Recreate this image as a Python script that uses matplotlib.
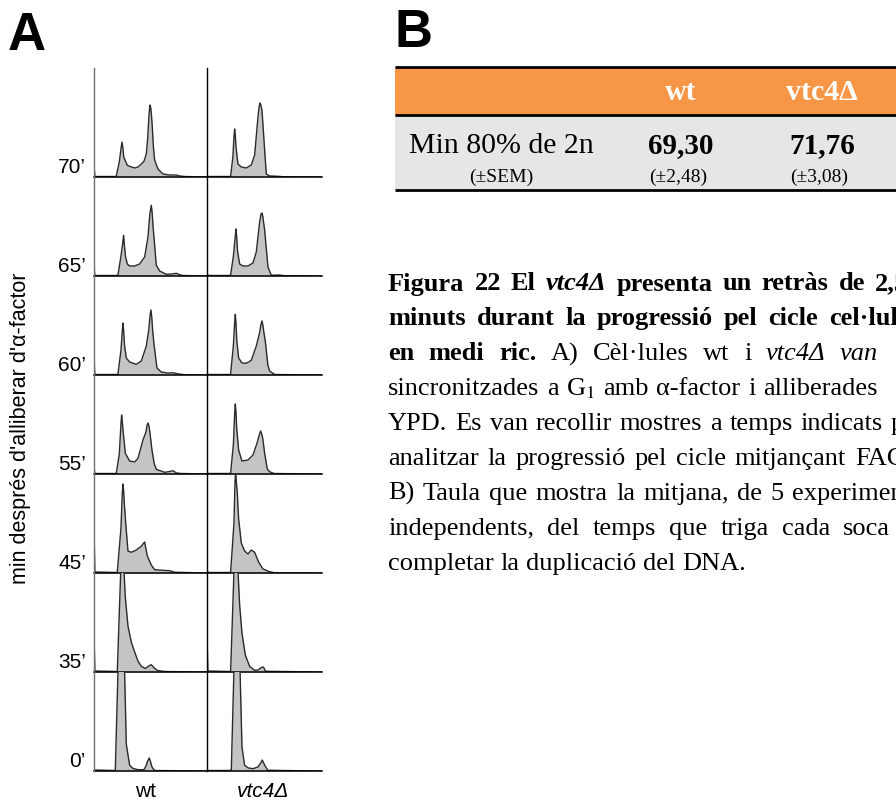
import matplotlib
matplotlib.use('Agg')
import matplotlib.pyplot as plt
from matplotlib.patches import Rectangle
from matplotlib.lines import Line2D

plt.rcParams['mathtext.fontset'] = 'stix'
SANS = 'Liberation Sans'
SERIF = 'Liberation Serif'

# ---- A: FACS histograms (DNA content channel vs. cell count), rows top -> bottom
times = ['70’', '65’', '60’', '55’', '45’', '35’', '0’']
strains = ['wt', 'vtc4Δ']

wt_ch = [
    [0, 5, 190, 198, 225, 240, 249, 256, 265, 297, 318, 363, 393, 423, 447, 468, 480, 492, 501, 508, 515, 522, 532, 543, 573, 618, 678, 738, 770, 813, 1017],
    [0, 5, 205, 213, 240, 256, 264, 270, 280, 297, 318, 363, 408, 453, 483, 500, 513, 520, 530, 537, 558, 588, 648, 700, 738, 770, 798, 1017],
    [0, 5, 205, 213, 240, 252, 258, 264, 272, 288, 318, 378, 423, 468, 490, 502, 510, 517, 525, 537, 564, 603, 660, 708, 760, 813, 1017],
    [0, 5, 190, 198, 225, 240, 246, 252, 262, 279, 318, 363, 393, 438, 465, 475, 483, 492, 500, 519, 540, 558, 633, 680, 708, 740, 783, 1017],
    [0, 5, 200, 207, 240, 252, 258, 264, 270, 282, 303, 333, 378, 423, 453, 477, 513, 543, 618, 678, 723, 1017],
    [0, 5, 200, 207, 250, 279, 303, 333, 363, 393, 423, 459, 490, 513, 540, 570, 633, 1017],
    [0, 180, 189, 245, 288, 318, 350, 393, 447, 468, 480, 495, 507, 519, 543, 1017],
]
wt_n = [
    [8, 0.5, 0.5, 1, 15, 28, 35, 30, 20, 11.7, 10.7, 9, 10, 13, 15.7, 23, 38, 62, 72, 69, 61, 50, 30, 17, 8, 3, 2, 2, 1, 0.5, 0],
    [6, 0.5, 0.5, 1, 20, 33, 40.7, 32, 20, 12, 10, 10, 12, 19, 39, 62, 70.7, 64, 48, 39, 10.7, 5, 1.7, 2, 2.7, 1.2, 0.5, 0],
    [10, 0.5, 0.5, 1, 25, 44, 52, 44, 30, 17, 13, 10.7, 14, 29, 45, 60, 65, 58, 45, 31, 7, 3, 2, 2.2, 1, 0.3, 0],
    [4, 0.5, 0.5, 1, 20, 50, 59, 52, 40, 20.7, 13, 12, 15.7, 34, 42, 49, 51, 48, 42, 24, 10, 4.7, 1.7, 2.5, 3.3, 1, 0.5, 0],
    [30, 1, 0.5, 1, 45, 80, 89, 82, 70, 51, 22, 20.7, 23, 26.7, 31, 17, 8, 3.3, 2.7, 2.3, 0.7, 0],
    [25, 1, 0.5, 1, 140, 75, 46, 30, 20, 11, 5.7, 3.5, 6, 7.3, 4, 1.5, 0.5, 0],
    [1, 0.5, 1, 230, 27, 5.7, 2.5, 1.3, 1.3, 5.7, 10, 13, 9, 4, 0.5, 0],
]

vtc_ch = [
    [0, 200, 210, 230, 240, 246, 252, 258, 276, 306, 351, 396, 426, 456, 466, 474, 482, 492, 516, 531, 561, 620, 680, 1032],
    [0, 5, 200, 210, 235, 252, 258, 264, 272, 291, 321, 366, 411, 441, 471, 484, 492, 499, 505, 516, 546, 576, 640, 700, 1032],
    [0, 5, 200, 210, 235, 246, 252, 258, 265, 282, 312, 351, 396, 441, 470, 482, 492, 500, 510, 522, 545, 561, 606, 1032],
    [0, 5, 200, 210, 235, 246, 252, 258, 265, 282, 312, 366, 411, 447, 470, 480, 490, 500, 516, 540, 561, 600, 1032],
    [0, 5, 200, 210, 240, 249, 255, 261, 270, 282, 306, 336, 366, 396, 426, 462, 501, 561, 600, 1032],
    [0, 5, 200, 210, 255, 291, 312, 342, 381, 426, 456, 480, 495, 507, 520, 531, 1032],
    [0, 200, 216, 268, 312, 336, 370, 411, 456, 480, 495, 507, 522, 546, 1032],
]
vtc_n = [
    [0.5, 0.5, 1, 20, 40, 48, 42, 30, 13, 10, 9, 12, 22, 60, 70, 74, 72, 67, 27, 3, 1, 0.8, 0.3, 0],
    [3, 0.5, 0.5, 1, 20, 40, 47, 40, 25, 12, 10, 10, 13, 24, 54, 62, 63, 60, 55, 46, 9, 0.7, 1, 0.3, 0],
    [2, 0.5, 0.5, 1, 30, 52, 60.7, 52, 35, 17, 12, 11.7, 14.7, 29, 42, 50, 54, 50, 42, 34, 10, 4, 0.5, 0],
    [2, 0.5, 0.5, 1, 30, 60, 70, 62, 45, 24, 13, 14, 19, 30.7, 40, 43, 40, 35, 20.7, 5, 2.3, 0.5, 0],
    [3, 0.5, 0.5, 1, 50, 90, 102, 92, 80, 54, 30, 22, 19, 23, 20.7, 11, 4, 1.3, 0.3, 0],
    [26, 1, 0.5, 1, 150, 67, 39, 17, 5.7, 1.7, 2, 4, 5, 4.7, 1.5, 0.7, 0],
    [0.5, 0.5, 1, 220, 24, 5.7, 3, 2.3, 4, 8, 11, 8, 4.7, 0.7, 0],
]

# ---- B: table
table_cols = ['wt', 'vtc4Δ']
table_row = 'Min 80% de 2n'
min_2n = [69.30, 71.76]
min_2n_sem = [2.48, 3.08]


def fmt(v):
    return f'{v:.2f}'.replace('.', ',')


W, H = 896, 802
fig = plt.figure(figsize=(W / 100, H / 100), dpi=100)
bg = fig.add_axes([0, 0, 1, 1])
bg.set_xlim(0, W)
bg.set_ylim(H, 0)
bg.axis('off')


def px_axes(x0, x1, ybase, h=99):
    return fig.add_axes([x0 / W, 1 - ybase / H, (x1 - x0) / W, h / H])


# panel A grid
x_wt, x_mid, x_end = 94.3, 207.3, 322
row_top, row0, row_h = 68, 177, 99
for i, t in enumerate(times):
    yb = row0 + row_h * i
    for x0, x1, ch, n in [(x_wt, x_mid, wt_ch[i], wt_n[i]),
                          (x_mid, x_end, vtc_ch[i], vtc_n[i])]:
        ax = px_axes(x0, x1, yb)
        ax.fill_between(ch, n, color='#c4c4c4', lw=0)
        ax.plot(ch, n, color='#2a2a2a', lw=1.0, solid_joinstyle='round')
        ax.set_xlim(0, (x1 - x0) * 9)
        ax.set_ylim(0, 99)
        ax.patch.set_visible(False)
        for s in ['top', 'right', 'left']:
            ax.spines[s].set_visible(False)
        ax.spines['bottom'].set_linewidth(1.1)
        ax.set_xticks([])
        ax.set_yticks([])
    bg.text(86, yb - 4, t, ha='right', va='baseline', fontsize=15, family=SANS)

last_base = row0 + row_h * (len(times) - 1)
fig.add_artist(Line2D([x_wt, x_wt], [row_top, last_base], transform=bg.transData,
                      color='#6e6e6e', lw=1.0))
fig.add_artist(Line2D([x_mid, x_mid], [row_top, last_base], transform=bg.transData,
                      color='black', lw=1.0))

bg.text(21, 428, "min després d'alliberar d'α-factor", rotation=90,
        ha='center', va='center', fontsize=15.5, family=SANS)
bg.text(146, 797, strains[0], ha='center', va='baseline', fontsize=15, family=SANS)
bg.text(263, 797, strains[1], ha='center', va='baseline', fontsize=15, family=SANS,
        style='italic')

bg.text(8, 50, 'A', fontsize=38, fontweight='bold', family=SANS, va='baseline')
bg.text(395, 47, 'B', fontsize=38, fontweight='bold', family=SANS, va='baseline')

# panel B table
tx0, tx1 = 395, 910
bg.add_patch(Rectangle((tx0, 67), tx1 - tx0, 48, facecolor='#f79646', edgecolor='none'))
bg.add_patch(Rectangle((tx0, 115), tx1 - tx0, 74.5, facecolor='#e6e6e6', edgecolor='none'))
for yl in [67, 115, 189.5]:
    bg.plot([tx0, tx1], [yl, yl], color='black', lw=2.0, solid_capstyle='butt')

col_x = [681, 822]
bg.text(501, 153, table_row, ha='center', va='baseline', fontsize=21.5, family=SERIF)
bg.text(501, 181.5, '(±SEM)', ha='center', va='baseline', fontsize=14, family=SERIF)
for cx, lab, m, s in zip(col_x, table_cols, min_2n, min_2n_sem):
    bg.text(cx, 100, lab, ha='center', va='baseline', fontsize=21.5, family=SERIF,
            fontweight='bold', color='white')
    bg.text(cx, 153, fmt(m), ha='center', va='baseline', fontsize=21, family=SERIF,
            fontweight='bold')
    bg.text(cx - 3, 181.5, f'(±{fmt(s)})', ha='center', va='baseline', fontsize=14,
            family=SERIF)

# caption, justified line by line
caption = [
    [('Figura', 'b'), ('22', 'b'), ('El', 'b'), ('vtc4Δ', 'bi'), ('presenta', 'b'),
     ('un', 'b'), ('retràs', 'b'), ('de', 'b'), ('2,5', 'b')],
    [('minuts', 'b'), ('durant', 'b'), ('la', 'b'), ('progressió', 'b'), ('pel', 'b'),
     ('cicle', 'b'), ('cel·lular', 'b')],
    [('en', 'b'), ('medi', 'b'), ('ric.', 'b'), ('A)', ''), ('Cèl·lules', ''), ('wt', ''),
     ('i', ''), ('vtc4Δ', 'i'), ('van', 'i')],
    [('sincronitzades', ''), ('a', ''), ('G$_1$', ''), ('amb', ''), ('α-factor', ''),
     ('i', ''), ('alliberades', '')],
    [('YPD.', ''), ('Es', ''), ('van', ''), ('recollir', ''), ('mostres', ''), ('a', ''),
     ('temps', ''), ('indicats', ''), ('per', '')],
    [('analitzar', ''), ('la', ''), ('progressió', ''), ('pel', ''), ('cicle', ''),
     ('mitjançant', ''), ('FACS.', '')],
    [('B)', ''), ('Taula', ''), ('que', ''), ('mostra', ''), ('la', ''), ('mitjana,', ''),
     ('de', ''), ('5', ''), ('experiments', '')],
    [('independents,', ''), ('del', ''), ('temps', ''), ('que', ''), ('triga', ''),
     ('cada', ''), ('soca', '')],
    [('completar', ''), ('la', ''), ('duplicació', ''), ('del', ''), ('DNA.', '')],
]
# (word index, x of its left edge) used to spread each line
anchors = [(8, 875), (6, 829), (8, 840), (6, 763), (8, 891), (6, 855), (8, 792), (6, 843), None]

cap_x0, cap_y0, cap_dy, cap_size = 388, 290.5, 34.9, 19
renderer = fig.canvas.get_renderer()
for k, (words, anc) in enumerate(zip(caption, anchors)):
    y = cap_y0 + cap_dy * k
    arts = []
    for w, st in words:
        arts.append(bg.text(0, y, w, family=SERIF, fontsize=cap_size, va='baseline',
                            ha='left', fontweight='bold' if 'b' in st else 'normal',
                            fontstyle='italic' if 'i' in st else 'normal'))
    widths = [a.get_window_extent(renderer).width for a in arts]
    if anc is None:
        gap = 0.25 * cap_size * 100 / 72
    else:
        idx, xa = anc
        gap = (xa - cap_x0 - sum(widths[:idx])) / idx
    x = cap_x0
    for a, wd in zip(arts, widths):
        a.set_x(x)
        x += wd + gap

fig.savefig('out.png', dpi=100)
